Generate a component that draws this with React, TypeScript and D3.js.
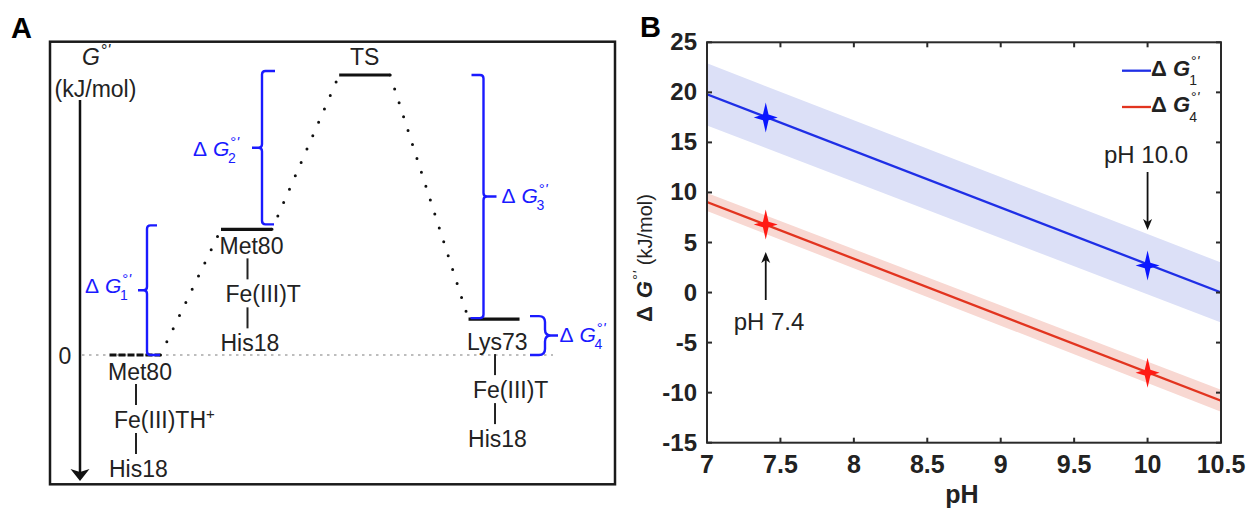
import React from 'react';
import * as d3 from 'd3';

// ---------------- Panel B data ----------------
const pHRange = [7, 10.5];
const dG1Fit = [19.8, 0.0];
const dG4Fit = [9.05, -10.8];
const dG1Err = [3.1, 3.0];
const dG4Err = [0.9, 1.1];
const markerPH = [7.4, 10.0];
const dG1Points = [17.5, 2.7];
const dG4Points = [6.8, -8.0];
const xTickValues = [7, 7.5, 8, 8.5, 9, 9.5, 10, 10.5];
const yTickValues = [-15, -10, -5, 0, 5, 10, 15, 20, 25];
const xTickLabels = ['7', '7.5', '8', '8.5', '9', '9.5', '10', '10.5'];
const annotationLabels = ['pH 7.4', 'pH 10.0'];
const legendSubs = ['1', '4'];

// ---------------- Panel A data ----------------
const stateTop = ['Met80', 'Met80', 'TS', 'Lys73'];
const stateMid = ['Fe(III)TH', 'Fe(III)T', '', 'Fe(III)T'];
const stateBottom = ['His18', 'His18', '', 'His18'];
const reactionCoord = [0, 1, 2.06, 3.22];
const stateEnergy = [0, 17.5, 39, 5];
const gapSubs = ['1', '2', '3', '4'];

const FONT = "'Liberation Sans', Arial, Helvetica, sans-serif";
const BLUE = '#1a1aff';

function starPath(cx: number, cy: number, rx: number, ry: number, i: number) {
  const p = d3.path();
  p.moveTo(cx, cy - ry);
  p.lineTo(cx + i, cy - i);
  p.lineTo(cx + rx, cy);
  p.lineTo(cx + i, cy + i);
  p.lineTo(cx, cy + ry);
  p.lineTo(cx - i, cy + i);
  p.lineTo(cx - rx, cy);
  p.lineTo(cx - i, cy - i);
  p.closePath();
  return p.toString();
}

function bracketPath(
  x: number, y0: number, y1: number,
  d0: number, l0: number, d1: number, l1: number,
  nd: number, nl: number, r: number
) {
  const ym = (y0 + y1) / 2;
  const p = d3.path();
  p.moveTo(x + d0 * l0, y0);
  p.lineTo(x + d0 * r, y0);
  p.quadraticCurveTo(x, y0, x, y0 + r);
  p.lineTo(x, ym - r);
  p.quadraticCurveTo(x, ym, x + nd * r, ym);
  p.lineTo(x + nd * nl, ym);
  p.moveTo(x + nd * r, ym);
  p.quadraticCurveTo(x, ym, x, ym + r);
  p.lineTo(x, y1 - r);
  p.quadraticCurveTo(x, y1, x + d1 * r, y1);
  p.lineTo(x + d1 * l1, y1);
  return { d: p.toString(), ym };
}

function Prime(props: { fs: number; dy: number; dx?: number }) {
  return (
    <>
      <tspan fontWeight="normal" fontStyle="normal" fontSize={props.fs} dx={props.dx ?? 1} dy={props.dy}>°</tspan>
      <tspan fontWeight="normal" fontStyle="italic" fontSize={props.fs}>'</tspan>
    </>
  );
}

function DeltaG(props: {
  x: number; yb: number; sub: string; fs: number; supFs: number; subFs: number;
  bold?: boolean; color: string; supDy: number; subDy: number; subDx: number;
}) {
  const { x, yb, sub, fs, supFs, subFs, bold, color, supDy, subDy, subDx } = props;
  return (
    <text x={x} y={yb} fontSize={fs} fill={color} fontFamily={FONT} fontWeight={bold ? 'bold' : 'normal'}>
      <tspan>Δ</tspan>
      <tspan fontStyle="italic">{'\u00a0'}G</tspan>
      <Prime fs={supFs} dy={supDy} />
      <tspan fontWeight="normal" fontSize={subFs} dx={subDx} dy={subDy - supDy}>{sub}</tspan>
    </text>
  );
}

function ArrowLine(props: { x: number; y0: number; y1: number }) {
  const { x, y0, y1 } = props;
  const dir = Math.sign(y1 - y0);
  const hl = 11;
  const hw = 4.5;
  const head = `M${x},${y1} L${x - hw},${y1 - dir * hl} L${x},${y1 - dir * (hl - 3)} L${x + hw},${y1 - dir * hl} Z`;
  return (
    <g>
      <line x1={x} y1={y0} x2={x} y2={y1 - dir * 6} stroke="#111" strokeWidth={1.8} />
      <path d={head} fill="#111" />
    </g>
  );
}

function PanelB() {
  const x = d3.scaleLinear().domain([7, 10.5]).range([707, 1221]);
  const y = d3.scaleLinear().domain([-15, 25]).range([442.7, 42.3]);
  const [left, right] = x.range();
  const [bottom, top] = y.range();

  const idx = d3.range(pHRange.length);
  const band = (fit: number[], err: number[]) =>
    d3.area<number>()
      .x((i) => x(pHRange[i]))
      .y0((i) => y(fit[i] - err[i]))
      .y1((i) => y(fit[i] + err[i]))(idx) || '';
  const line = (fit: number[]) =>
    d3.line<number>().x((i) => x(pHRange[i])).y((i) => y(fit[i]))(idx) || '';

  const axisColor = '#2a2a2a';
  const tl = 5;

  return (
    <g fontFamily={FONT}>
      <text x={640} y={37} fontSize={29} fontWeight="bold">B</text>
      <defs>
        <clipPath id="plotB">
          <rect x={left} y={top} width={right - left} height={bottom - top} />
        </clipPath>
      </defs>
      <g clipPath="url(#plotB)">
        <path d={band(dG1Fit, dG1Err)} fill="#dce0f7" />
        <path d={band(dG4Fit, dG4Err)} fill="#f8d8d2" />
        <path d={line(dG1Fit)} fill="none" stroke="#1f2fe6" strokeWidth={2.3} />
        <path d={line(dG4Fit)} fill="none" stroke="#e2341f" strokeWidth={2.3} />
      </g>
      {markerPH.map((p, i) => (
        <path key={'b' + i} d={starPath(x(p), y(dG1Points[i]), 12, 15, 2.8)} fill="#0a16ff" />
      ))}
      {markerPH.map((p, i) => (
        <path key={'r' + i} d={starPath(x(p), y(dG4Points[i]), 12, 15, 2.8)} fill="#ff1a14" />
      ))}

      {/* axes box */}
      <rect x={left} y={top} width={right - left} height={bottom - top} fill="none" stroke={axisColor} strokeWidth={2} />
      {xTickValues.map((v) => (
        <g key={'xt' + v}>
          <line x1={x(v)} x2={x(v)} y1={bottom} y2={bottom - tl} stroke={axisColor} strokeWidth={2} />
          <line x1={x(v)} x2={x(v)} y1={top} y2={top + tl} stroke={axisColor} strokeWidth={2} />
        </g>
      ))}
      {yTickValues.map((v) => (
        <g key={'yt' + v}>
          <line x1={left} x2={left + tl} y1={y(v)} y2={y(v)} stroke={axisColor} strokeWidth={2} />
          <line x1={right} x2={right - tl} y1={y(v)} y2={y(v)} stroke={axisColor} strokeWidth={2} />
        </g>
      ))}
      {xTickValues.map((v, i) => (
        <text key={'xl' + v} x={x(v)} y={473} fontSize={25} fontWeight="bold" textAnchor="middle" fill="#222">
          {xTickLabels[i]}
        </text>
      ))}
      {yTickValues.map((v) => (
        <text key={'yl' + v} x={697} y={y(v) + 8} fontSize={24} fontWeight="bold" textAnchor="end" fill="#222">
          {String(v)}
        </text>
      ))}
      <text x={962} y={503} fontSize={25} fontWeight="bold" textAnchor="middle" fill="#222">pH</text>

      {/* y label */}
      <text transform="translate(652,322) rotate(-90)" fill="#222" fontSize={20}>
        <tspan fontWeight="bold" fontSize={22}>Δ</tspan>
        <tspan fontWeight="bold" fontStyle="italic" fontSize={22} dx={8}>G</tspan>
        <Prime fs={15} dy={-9} />
        <tspan dy={9} dx={6}>(kJ/mol)</tspan>
      </text>

      {/* legend */}
      {[dG1Fit, dG4Fit].map((_, i) => {
        const ly = i === 0 ? 70.7 : 107;
        return (
          <g key={'lg' + i}>
            <line x1={1122} x2={1151} y1={ly} y2={ly} stroke={i === 0 ? '#1f2fe6' : '#e2341f'} strokeWidth={2.3} />
            <DeltaG x={1151} yb={ly + 5} sub={legendSubs[i]} fs={22} supFs={14} subFs={14}
              bold color="#222" supDy={-10} subDy={9.5} subDx={-10} />
          </g>
        );
      })}

      {/* annotations */}
      <text x={1146} y={163} fontSize={24} textAnchor="middle" fill="#222">{annotationLabels[1]}</text>
      <ArrowLine x={x(markerPH[1])} y0={172} y1={230} />
      <text x={769} y={330} fontSize={24} textAnchor="middle" fill="#222">{annotationLabels[0]}</text>
      <ArrowLine x={x(markerPH[0])} y0={300} y1={252} />
    </g>
  );
}

function PanelA() {
  const xA = d3.scaleLinear().domain([0, 1]).range([135, 246.5]);
  const yA = d3.scaleLinear().domain([0, 39]).range([355, 75]);
  const hw = 25.5;
  const fs = 22;
  const labelOffset = [25, 25, 0, 31];

  const levels = reactionCoord.map((rc, i) => ({
    cx: xA(rc), y: yA(stateEnergy[i]),
  }));

  const b1 = bracketPath(147, yA(stateEnergy[1]) - 4, yA(stateEnergy[0]), 1, 10, 1, 13, -1, 9, 3.5);
  const b2 = bracketPath(262, yA(stateEnergy[2]) - 4, yA(stateEnergy[1]) - 5, 1, 13, 1, 12, -1, 10, 3.5);
  const b3 = bracketPath(483.5, yA(stateEnergy[2]), yA(stateEnergy[3]) - 1, -1, 12, -1, 13, 1, 13, 3.5);
  const b4 = bracketPath(545, yA(stateEnergy[3]) - 3, yA(stateEnergy[0]), -1, 15, -1, 15, 1, 13, 6);

  const gLabel = { fs: 21, supFs: 15, subFs: 14, color: BLUE, supDy: -9, subDy: 7, subDx: -11 };

  return (
    <g fontFamily={FONT}>
      <text x={11} y={38} fontSize={29} fontWeight="bold">A</text>
      <rect x={50} y={41.7} width={565} height={442.6} fill="none" stroke="#1a1a1a" strokeWidth={2.5} />

      {/* axis */}
      <text x={82} y={65} fontSize={fs + 1} fill="#222">
        <tspan fontStyle="italic">G</tspan>
        <Prime fs={16} dy={-9} />
      </text>
      <text x={95.5} y={97} fontSize={fs + 1} textAnchor="middle" fill="#222">(kJ/mol)</text>
      <line x1={80} x2={80} y1={100} y2={474} stroke="#111" strokeWidth={2.5} />
      <path d="M80,481 L70.5,469 L80,472 L89.5,469 Z" fill="#111" />
      <text x={65} y={364} fontSize={fs + 1} textAnchor="middle" fill="#222">0</text>

      {/* zero reference */}
      <line x1={82} x2={553} y1={yA(0)} y2={yA(0)} stroke="#bdbdbd" strokeWidth={2} strokeDasharray="2.5 4.5" />

      {/* connectors */}
      {levels.slice(0, -1).map((l, i) => {
        const n = levels[i + 1];
        return (
          <line key={'c' + i} x1={l.cx + hw} y1={l.y} x2={n.cx - hw} y2={n.y}
            stroke="#111" strokeWidth={3} strokeLinecap="round" strokeDasharray="0 14.6" />
        );
      })}

      {/* levels */}
      {levels.map((l, i) => (
        <line key={'l' + i} x1={l.cx - hw} x2={l.cx + hw} y1={l.y} y2={l.y}
          stroke="#111" strokeWidth={3.2} strokeDasharray={i === 0 ? '7 2' : undefined} />
      ))}

      {/* labels */}
      {levels.map((l, i) => {
        if (stateTop[i] === 'TS') {
          return <text key={'t' + i} x={l.cx} y={l.y - 10} fontSize={fs + 1} textAnchor="middle" fill="#222">{stateTop[i]}</text>;
        }
        const bx = l.cx + 1;
        const y0 = l.y + labelOffset[i];
        return (
          <g key={'t' + i} fill="#222" fontSize={fs + 1}>
            <text x={bx - 28} y={y0}>{stateTop[i]}</text>
            <line x1={bx} x2={bx} y1={y0 + 4} y2={y0 + 25} stroke="#222" strokeWidth={2} />
            <text x={bx - 22} y={y0 + 48}>
              {stateMid[i]}
              {i === 0 ? <tspan fontSize={15} dy={-9}>+</tspan> : null}
            </text>
            <line x1={bx} x2={bx} y1={y0 + 53} y2={y0 + 74} stroke="#222" strokeWidth={2} />
            <text x={bx - 27} y={y0 + 97}>{stateBottom[i]}</text>
          </g>
        );
      })}

      {/* brackets */}
      {[b1, b2, b3, b4].map((b, i) => (
        <path key={'br' + i} d={b.d} fill="none" stroke={BLUE} strokeWidth={2.4} />
      ))}
      <DeltaG x={85} yb={b1.ym + 3} sub={gapSubs[0]} {...gLabel} />
      <DeltaG x={193} yb={b2.ym + 8} sub={gapSubs[1]} {...gLabel} />
      <DeltaG x={501.5} yb={b3.ym + 6.5} sub={gapSubs[2]} {...gLabel} />
      <DeltaG x={559.5} yb={b4.ym + 6} sub={gapSubs[3]} {...gLabel} />
    </g>
  );
}

export default function App() {
  return (
    <svg width={1252} height={510} viewBox="0 0 1252 510"
      style={{ position: 'absolute', left: 0, top: 0, background: '#fff' }}>
      <rect x={0} y={0} width={1252} height={510} fill="#fff" />
      <PanelA />
      <PanelB />
    </svg>
  );
}
